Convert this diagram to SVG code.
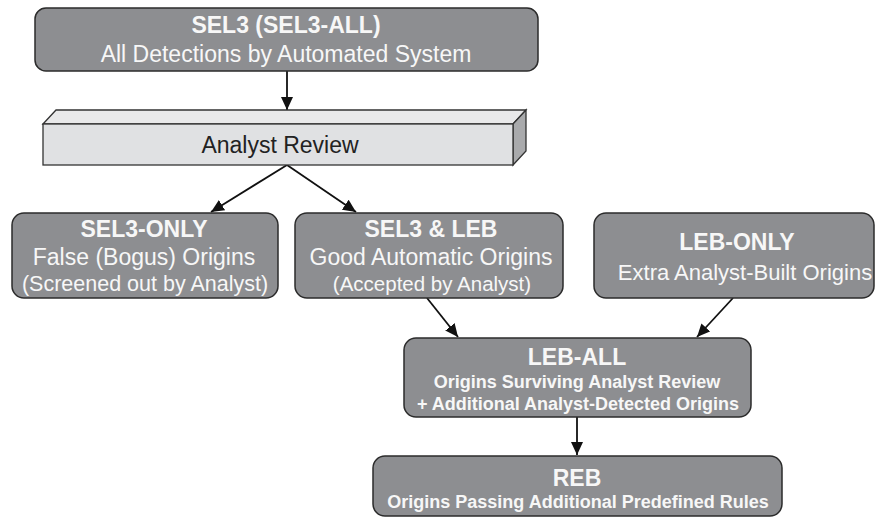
<svg xmlns="http://www.w3.org/2000/svg" width="876" height="518" viewBox="0 0 876 518">
<defs>
<style>
.box{fill:#8d8e91;stroke:#2b2b2b;stroke-width:1.5}
.t{font-family:"Liberation Sans",Arial,sans-serif;fill:#f7f7f7;text-anchor:middle}
.b{font-weight:bold}
.c{stroke:#111;stroke-width:1.8;fill:none;marker-end:url(#ah)}
</style>
<marker id="ah" markerUnits="userSpaceOnUse" markerWidth="14" markerHeight="12" refX="13" refY="6" orient="auto">
<path d="M0,0 L13,6 L0,12 z" fill="#111"/>
</marker>
</defs>
<rect width="876" height="518" fill="#ffffff"/>
<g id="connectors">
<line class="c" x1="287" y1="71" x2="287" y2="110"/>
<line class="c" x1="287" y1="165" x2="211" y2="212"/>
<line class="c" x1="287" y1="165" x2="356" y2="212"/>
<line class="c" x1="427" y1="298" x2="458" y2="337"/>
<line class="c" x1="733" y1="298" x2="697" y2="337"/>
<line class="c" x1="577" y1="417" x2="577" y2="455"/>
</g>
<g id="sel3-all">
<rect class="box" x="35" y="8" width="503" height="63" rx="11"/>
<text class="t b" x="286" y="33" font-size="23">SEL3 (SEL3-ALL)</text>
<text class="t" x="286" y="62" font-size="23">All Detections by Automated System</text>
</g>
<g id="analyst-review">
<polygon points="43,124 56,110 526,110 513,124" fill="#e9e9ea" stroke="#333" stroke-width="1.3"/>
<polygon points="513,124 526,110 526,151 513,165" fill="#a9aaac" stroke="#333" stroke-width="1.3"/>
<rect x="43" y="124" width="470" height="41" fill="#e0e1e3" stroke="#333" stroke-width="1.3"/>
<text class="t" x="280" y="153" font-size="23" style="fill:#222">Analyst Review</text>
</g>
<g id="sel3-only">
<rect class="box" x="12" y="213" width="266" height="85" rx="12"/>
<text class="t b" x="144" y="237" font-size="23">SEL3-ONLY</text>
<text class="t" x="144" y="265" font-size="23">False (Bogus) Origins</text>
<text class="t" x="145" y="291" font-size="21.5">(Screened out by Analyst)</text>
</g>
<g id="sel3-leb">
<rect class="box" x="295" y="213" width="268" height="85" rx="12"/>
<text class="t b" x="431" y="237" font-size="23">SEL3 &amp; LEB</text>
<text class="t" x="431" y="265" font-size="23">Good Automatic Origins</text>
<text class="t" x="432" y="291" font-size="20.5">(Accepted by Analyst)</text>
</g>
<g id="leb-only">
<rect class="box" x="594" y="213" width="280" height="85" rx="12"/>
<text class="t b" x="737" y="250" font-size="23">LEB-ONLY</text>
<text class="t" x="745" y="280" font-size="22">Extra Analyst-Built Origins</text>
</g>
<g id="leb-all">
<rect class="box" x="404" y="338" width="347" height="79" rx="12"/>
<text class="t b" x="577" y="365" font-size="23">LEB-ALL</text>
<text class="t b" x="577" y="388" font-size="18">Origins Surviving Analyst Review</text>
<text class="t b" x="578" y="410" font-size="18">+ Additional Analyst-Detected Origins</text>
</g>
<g id="reb">
<rect class="box" x="373" y="456" width="409" height="60" rx="12"/>
<text class="t b" x="577" y="486" font-size="23">REB</text>
<text class="t b" x="578" y="508" font-size="18">Origins Passing Additional Predefined Rules</text>
</g>
</svg>
